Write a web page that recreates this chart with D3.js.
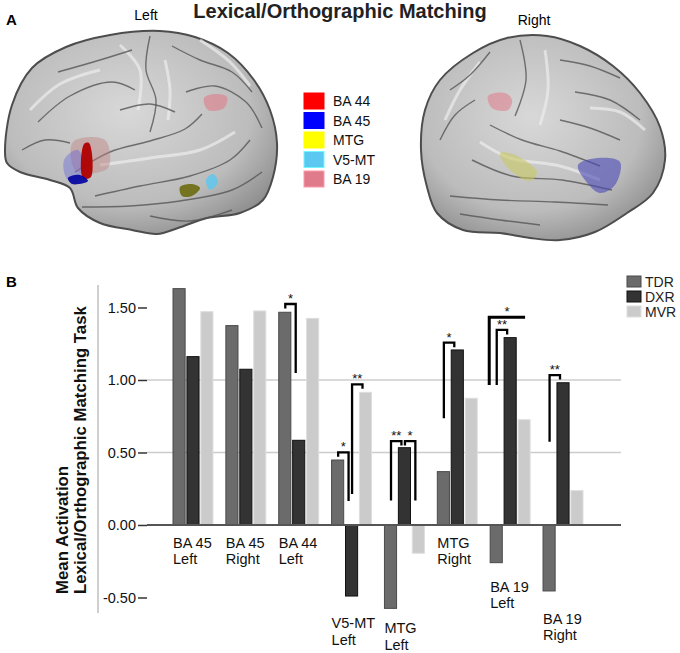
<!DOCTYPE html>
<html>
<head>
<meta charset="utf-8">
<script src="https://cdn.jsdelivr.net/npm/d3@7"></script>
<style>
  body { margin: 0; background: #fff; }
  text { font-family: "Liberation Sans", Arial, sans-serif; }
</style>
</head>
<body>
<div id="chart"></div>
<script>
// ---- data ----
const categories = ["BA 45\nLeft", "BA 45\nRight", "BA 44\nLeft", "V5-MT\nLeft",
                    "MTG\nLeft", "MTG\nRight", "BA 19\nLeft", "BA 19\nRight"];
const groups = ["TDR", "DXR", "MVR"];
const tdrValues = [1.63, 1.375, 1.467, 0.448, -0.575, 0.368, -0.26, -0.455];
const dxrValues = [1.161, 1.074, 0.584, -0.49, 0.533, 1.207, 1.292, 0.981];
const mvrValues = [1.471, 1.476, 1.425, 0.915, -0.195, 0.874, 0.726, 0.237];
const yTicks = [-0.5, 0, 0.5, 1, 1.5];
const gridValues = [0.5, 1];

// significance brackets: category, pair of groups, top level, long leg end, side of long leg
const brackets = [
    { cat: 2, a: "TDR", b: "DXR", top: 1.524, end: 1.048, long: "b", label: "*" },
    { cat: 3, a: "TDR", b: "DXR", top: 0.501, end: 0.166, long: "b", label: "*" },
    { cat: 3, a: "DXR", b: "MVR", top: 0.970, end: 0.214, long: "a", label: "**" },
    { cat: 4, a: "TDR", b: "DXR", top: 0.579, end: 0.168, long: "a", label: "**" },
    { cat: 4, a: "DXR", b: "MVR", top: 0.579, end: 0.168, long: "b", label: "*" },
    { cat: 5, a: "TDR", b: "DXR", top: 1.257, end: 0.736, long: "a", label: "*" },
    { cat: 6, a: "TDR", b: "DXR", top: 1.345, end: 0.966, long: "a", label: "**" },
    { cat: 6, a: "TDR", b: "MVR", top: 1.432, end: 0.966, long: "a", label: "*", wide: true },
    { cat: 7, a: "TDR", b: "DXR", top: 1.034, end: 0.574, long: "a", label: "**" }
];

const regionNames = ["BA 44", "BA 45", "MTG", "V5-MT", "BA 19"];
const regionColors = ["#ff0000", "#0000ff", "#ffff00", "#5ac8f0", "#e07b8b"];

// ---- layout ----
const width = 680, height = 653;
const svg = d3.select("#chart").append("svg")
    .attr("width", width)
    .attr("height", height);

const seriesColor = { TDR: "#6b6b6b", DXR: "#333333", MVR: "#cbcbcb" };
const seriesStroke = { TDR: "#4a4a4a", DXR: "#111111", MVR: "#dedede" };
// gap between lowest bar end and the category label
const labelGap = [23, 23, 23, 32, 25, 23, 29, 33];

// ================= Panel A: brains =================
const defs = svg.append("defs");
const grad = defs.append("radialGradient")
    .attr("id", "brainGrad")
    .attr("cx", "45%").attr("cy", "40%").attr("r", "65%");
grad.append("stop").attr("offset", "0%").attr("stop-color", "#d8d8d8");
grad.append("stop").attr("offset", "70%").attr("stop-color", "#bcbcbc");
grad.append("stop").attr("offset", "100%").attr("stop-color", "#909090");

const closed = d3.line().curve(d3.curveCatmullRomClosed);
const open = d3.line().curve(d3.curveCatmullRom);

function drawBrain(outline, sulci, gyri, regions) {
    const g = svg.append("g");
    g.append("path")
        .attr("d", closed(outline))
        .attr("fill", "url(#brainGrad)")
        .attr("stroke", "#4d4d4d")
        .attr("stroke-width", 2);
    g.selectAll("path.gyrus")
        .data(gyri)
        .enter()
        .append("path")
            .attr("class", "gyrus")
            .attr("d", d => open(d))
            .attr("fill", "none")
            .attr("stroke", "#ededed")
            .attr("stroke-width", 3)
            .attr("opacity", 0.7);
    g.selectAll("path.sulcus")
        .data(sulci)
        .enter()
        .append("path")
            .attr("class", "sulcus")
            .attr("d", d => open(d))
            .attr("fill", "none")
            .attr("stroke", "#555")
            .attr("stroke-width", 1.4)
            .attr("opacity", 0.8);
    g.selectAll("path.region")
        .data(regions)
        .enter()
        .append("path")
            .attr("class", "region")
            .attr("d", d => closed(d.pts))
            .attr("fill", d => d.color)
            .attr("opacity", d => d.op);
}

drawBrain(
    [[5, 150], [12, 105], [32, 68], [66, 47], [110, 35], [160, 31], [195, 37], [228, 53],
     [254, 80], [270, 110], [277, 143], [273, 177], [263, 200], [240, 213], [207, 218],
     [178, 228], [157, 234], [132, 230], [100, 223], [78, 208], [70, 188], [50, 180],
     [20, 172], [7, 163]],
    [[[75, 172], [110, 152], [150, 141], [185, 129], [202, 114]],
     [[150, 36], [146, 70], [156, 100], [150, 132]],
     [[95, 196], [140, 186], [190, 176], [230, 160], [250, 140]],
     [[82, 207], [130, 206], [180, 201], [232, 190], [262, 172]],
     [[38, 122], [70, 96], [112, 82], [135, 90]],
     [[58, 72], [100, 60], [132, 50]],
     [[172, 46], [200, 60], [232, 72], [252, 92]],
     [[186, 92], [215, 86], [246, 102], [262, 128]],
     [[120, 110], [150, 104], [175, 112]],
     [[150, 216], [190, 221], [232, 210]],
     [[22, 150], [45, 140], [70, 143]]],
    [[[30, 110], [60, 84], [100, 70]],
     [[120, 45], [140, 70], [138, 110]],
     [[100, 165], [150, 158], [200, 150], [235, 132]],
     [[200, 40], [230, 62], [250, 86]],
     [[165, 60], [170, 90], [168, 120]]],
    [{ pts: [[73, 142], [105, 140], [108, 168], [76, 171]], color: "#c08080", op: 0.45 },
     { pts: [[64, 160], [78, 150], [84, 176], [68, 180]], color: "#6a6ad8", op: 0.45 },
     { pts: [[84, 144], [89, 143], [91, 177], [83, 178]], color: "#b00000", op: 0.95 },
     { pts: [[68, 178], [80, 175], [88, 181], [72, 184]], color: "#0000a0", op: 0.9 },
     { pts: [[204, 98], [215, 94], [227, 97], [224, 108], [208, 110]], color: regionColors[4], op: 0.6 },
     { pts: [[180, 187], [192, 184], [200, 188], [192, 196], [182, 196]], color: "#6b6b10", op: 0.9 },
     { pts: [[206, 180], [213, 174], [218, 182], [210, 190]], color: regionColors[3], op: 0.8 }]
);

drawBrain(
    [[425, 110], [440, 80], [473, 53], [507, 38], [547, 36], [580, 46], [613, 66], [640, 93],
     [660, 127], [665, 160], [653, 193], [627, 213], [595, 232], [560, 240], [530, 238],
     [500, 233], [463, 230], [437, 213], [427, 187], [421, 150]],
    [[[600, 166], [560, 151], [522, 140], [490, 125]],
     [[520, 40], [526, 80], [515, 116]],
     [[612, 190], [562, 180], [512, 176], [472, 160]],
     [[608, 205], [555, 202], [500, 200], [450, 196]],
     [[640, 120], [610, 100], [575, 92]],
     [[620, 78], [590, 66], [560, 60]],
     [[490, 52], [470, 75], [450, 90]],
     [[475, 100], [455, 115], [440, 140]],
     [[460, 214], [500, 220], [540, 225]],
     [[560, 120], [590, 128], [620, 140]]],
    [[[645, 130], [620, 112], [590, 108]],
     [[545, 50], [548, 90], [540, 125]],
     [[600, 180], [560, 166], [510, 158], [480, 142]],
     [[480, 62], [460, 90], [445, 120]]],
    [{ pts: [[488, 96], [505, 93], [512, 100], [508, 110], [492, 108]], color: regionColors[4], op: 0.55 },
     { pts: [[500, 153], [515, 155], [537, 172], [530, 181], [508, 168]], color: "#c8c860", op: 0.6 },
     { pts: [[578, 165], [598, 158], [620, 162], [615, 185], [600, 193], [585, 180]], color: "#4a4ab8", op: 0.6 }]
);

// region legend
const regLegend = svg.append("g");
regLegend.selectAll("rect")
    .data(regionNames)
    .enter()
    .append("rect")
        .attr("x", 304)
        .attr("y", (d, i) => 93 + i * 19.5)
        .attr("width", 20)
        .attr("height", 16)
        .attr("fill", (d, i) => regionColors[i])
        .attr("stroke", (d, i) => d3.color(regionColors[i]).brighter(0.6))
        .attr("stroke-width", 1);
regLegend.selectAll("text")
    .data(regionNames)
    .enter()
    .append("text")
        .attr("x", 333)
        .attr("y", (d, i) => 106 + i * 19.5)
        .text(d => d)
        .style("font-size", "14px")
        .style("fill", "#111");

svg.append("text")
    .attr("x", 340).attr("y", 18)
    .attr("text-anchor", "middle")
    .text("Lexical/Orthographic Matching")
    .style("font-size", "20px")
    .style("font-weight", "bold")
    .style("fill", "#222");
svg.append("text")
    .attr("x", 146).attr("y", 20)
    .attr("text-anchor", "middle")
    .text("Left")
    .style("font-size", "14px");
svg.append("text")
    .attr("x", 534).attr("y", 25)
    .attr("text-anchor", "middle")
    .text("Right")
    .style("font-size", "14px");

svg.append("text").attr("x", 6).attr("y", 25).text("A")
    .style("font-size", "15px").style("font-weight", "bold");
svg.append("text").attr("x", 6).attr("y", 287).text("B")
    .style("font-size", "15px").style("font-weight", "bold");

// ================= Panel B: bar chart =================
const y = d3.scaleLinear()
    .domain([-0.607, 1.655])
    .range([613, 285]);

const x0 = d3.scaleBand()
    .domain(categories)
    .range([160, 596])
    .paddingInner(0.244)
    .paddingOuter(0.246);

const x1 = d3.scaleBand()
    .domain(groups)
    .range([0, x0.bandwidth()])
    .paddingInner(0.13);

const valuesBy = { TDR: tdrValues, DXR: dxrValues, MVR: mvrValues };
const plotLeft = 147, plotRight = 621;

// left vertical rule
svg.append("line")
    .attr("x1", 98).attr("x2", 98)
    .attr("y1", y.range()[1]).attr("y2", y.range()[0])
    .attr("stroke", "#cfcfcf")
    .attr("stroke-width", 2);

// gridlines
svg.selectAll("line.grid")
    .data(gridValues)
    .enter()
    .append("line")
        .attr("class", "grid")
        .attr("x1", plotLeft).attr("x2", plotRight)
        .attr("y1", d => y(d)).attr("y2", d => y(d))
        .attr("stroke", "#cccccc")
        .attr("stroke-width", 1.6);

// y axis
const yAxis = svg.append("g")
    .attr("transform", `translate(${plotLeft},0)`)
    .call(d3.axisLeft(y)
        .tickValues(yTicks)
        .tickSize(9)
        .tickPadding(2)
        .tickFormat(d => d.toFixed(2)));
yAxis.select(".domain").remove();
yAxis.selectAll(".tick line").attr("stroke", "#333").attr("stroke-width", 1.5);
yAxis.selectAll(".tick text")
    .style("font-size", "14.5px")
    .style("font-family", "'Liberation Sans', Arial, sans-serif")
    .style("fill", "#111");

// bars
const barData = [];
categories.forEach((c, i) => {
    groups.forEach(s => barData.push({ cat: c, series: s, value: valuesBy[s][i] }));
});

svg.append("g")
    .selectAll("rect")
    .data(barData)
    .enter()
    .append("rect")
        .attr("x", d => x0(d.cat) + x1(d.series))
        .attr("y", d => y(Math.max(0, d.value)))
        .attr("width", x1.bandwidth())
        .attr("height", d => Math.abs(y(d.value) - y(0)))
        .attr("fill", d => seriesColor[d.series])
        .attr("stroke", d => seriesStroke[d.series])
        .attr("stroke-width", 1);

// zero baseline
svg.append("line")
    .attr("x1", plotLeft).attr("x2", plotRight)
    .attr("y1", y(0)).attr("y2", y(0))
    .attr("stroke", "#555")
    .attr("stroke-width", 2);

// category labels
const catLabels = svg.append("g")
    .selectAll("text")
    .data(categories)
    .enter()
    .append("text")
        .attr("x", d => x0(d))
        .attr("y", (d, i) => {
            const lo = Math.min(0, tdrValues[i], dxrValues[i], mvrValues[i]);
            return y(lo) + labelGap[i];
        })
        .style("font-size", "14.5px")
        .style("fill", "#111");
catLabels.selectAll("tspan")
    .data(d => d.split("\n"))
    .enter()
    .append("tspan")
        .attr("x", function () { return d3.select(this.parentNode).attr("x"); })
        .attr("dy", (d, i) => i === 0 ? 0 : 16.5)
        .text(d => d);

// brackets
const center = (c, s) => x0(categories[c]) + x1(s) + x1.bandwidth() / 2;
const br = svg.append("g");
brackets.forEach(b => {
    const xa = center(b.cat, b.a) + (b.wide ? -7 : 0.5);
    const xb = center(b.cat, b.b) + (b.wide ? 1 : -3);
    const yt = y(b.top);
    const ya = b.long === "a" ? y(b.end) : yt + 4.5;
    const yb = b.long === "b" ? y(b.end) : (b.wide ? yt : yt + 4.5);
    br.append("path")
        .attr("d", d3.line()([[xa, ya], [xa, yt], [xb, yt], [xb, yb]]))
        .attr("fill", "none")
        .attr("stroke", "#000")
        .attr("stroke-width", b.wide ? 3 : 2.3);
    br.append("text")
        .attr("x", (xa + xb) / 2)
        .attr("y", yt - 1)
        .attr("text-anchor", "middle")
        .text(b.label)
        .style("font-size", "13px")
        .style("fill", "#111");
});

// y axis title
const yTitle = svg.append("text")
    .attr("transform", "translate(68,594) rotate(-90)")
    .style("font-size", "16.8px")
    .style("font-weight", "bold")
    .style("fill", "#111");
yTitle.append("tspan").attr("x", 0).attr("y", 0).text("Mean Activation");
yTitle.append("tspan").attr("x", 0).attr("y", 18).text("Lexical/Orthographic Matching Task");

// series legend
const legend = svg.append("g");
legend.selectAll("rect")
    .data(groups)
    .enter()
    .append("rect")
        .attr("x", 627)
        .attr("y", (d, i) => 276 + i * 15)
        .attr("width", 14)
        .attr("height", 11)
        .attr("fill", d => seriesColor[d])
        .attr("stroke", d => seriesStroke[d]);
legend.selectAll("text")
    .data(groups)
    .enter()
    .append("text")
        .attr("x", 645)
        .attr("y", (d, i) => 287 + i * 15)
        .text(d => d)
        .style("font-size", "14px")
        .style("fill", "#222");
</script>
</body>
</html>
